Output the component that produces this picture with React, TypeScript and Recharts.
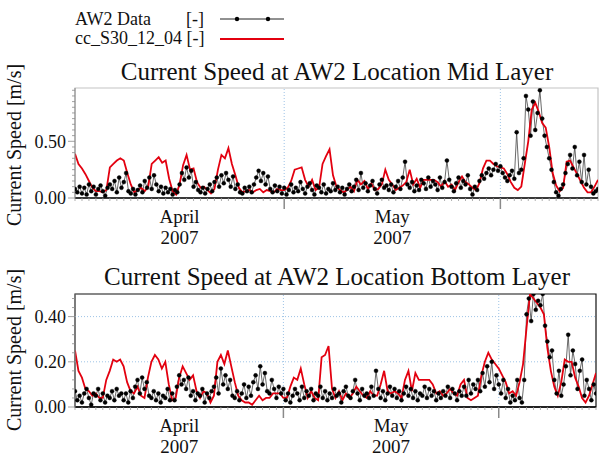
import React from 'react';
import { ComposedChart, Line, XAxis, YAxis, ReferenceLine, ReferenceArea } from 'recharts';

const SERIF = "'Liberation Serif', 'Times New Roman', serif";

// day 0 = 1 April 2007, x axis runs to mid June
const DAY_MAX = 75;
const MONTH_STARTS = [30, 61];
const MONTH_LABELS = [
  { day: 15, month: 'April', year: '2007' },
  { day: 45.5, month: 'May', year: '2007' },
];

const MODEL_STEP = 0.5; // model output every 12 h
const OBS_STEP = 1 / 3; // measurements every 8 h

// cc_S30_12_04, mid layer
const midModel = [
  .39, .30, .26, .21, .15, .09, .06, .06, .05, .07,
  .27, .30, .33, .35, .33, .22, .12, .05, .07, .09,
  .06, .10, .30, .33, .36, .31, .33, .17, .06, .03,
  .12, .29, .38, .25, .26, .14, .09, .10, .07, .04,
  .08, .25, .38, .35, .44, .30, .20, .09, .05, .06,
  .07, .05, .07, .08, .05, .07, .06, .05, .08, .07,
  .07, .09, .15, .25, .26, .27, .16,
  .10, .16, .07, .09, .30, .37, .43, .20, .10, .07, .05, .07, .10, .06,
  .16, .12, .15, .08, .13, .07, .08, .12, .25, .16,
  .12, .07, .09, .11, .14, .25, .12, .17, .09, .16,
  .16, .16, .16, .14, .10, .15, .10, .12, .07, .14,
  .19, .14, .12, .09, .07, .13, .26, .33, .33, .30,
  .28, .27, .26, .21, .14, .09, .07, .10, .30, .50,
  .78, .84, .76, .66, .62, .45, .22, .11, .06, .09,
  .32, .33, .27, .21, .15, .09, .05, .05, .10, .16,
];

// AW2 data, mid layer
const midObs = [
  .08, .05, .10, .04, .09, .03, .12, .06, .10, .03, .08, .11, .06, .02, .09,
  .12, .08, .15, .05, .18, .09, .14, .22, .06, .04, .08, .03, .07, .11, .05,
  .15, .09, .18, .08, .20, .12, .06, .10, .04, .09, .05, .08, .03, .07, .05,
  .12, .22, .16, .27, .18, .24, .10, .14, .07, .05, .09, .04, .08, .12, .06,
  .14, .18, .10, .20, .13, .22, .16, .10, .19, .08, .12, .05, .04, .09, .06,
  .10, .05, .12, .18, .24, .15, .22, .12, .19, .08, .05, .11, .06, .10, .04,
  .09, .03, .07, .12, .05, .09, .06, .14, .08, .04, .10, .13, .07, .03, .11,
  .09, .05, .12, .04, .08, .06, .13, .07, .10, .05, .09, .03, .08, .12, .06,
  .10, .16, .07, .22, .09, .13, .06, .11, .15, .08, .04, .12, .16, .09, .11,
  .07, .12, .05, .10, .15, .08, .18, .32, .12, .09, .14, .06, .11, .07, .16,
  .13, .08, .18, .10, .15, .12, .07, .18, .09, .14, .33, .16, .10, .06, .13,
  .18, .09, .15, .12, .20, .08, .03, .10, .07, .15, .20, .17, .22, .26, .20,
  .25, .30, .24, .28, .22, .18, .15, .20, .24, .17, .58, .22, .25, .35, .90,
  .78, .55, .85, .60, .75, .95, .70, .55, .45, .35, .25, .14, .05, .02, .08,
  .12, .22, .30, .38, .26, .45, .20, .32, .14, .38, .12, .25, .10, .04, .06,
  .08,
];

// cc_S30_12_04, bottom layer
const botModel = [
  .25, .16, .13, .08, .07, .05, .06, .04, .04, .12,
  .16, .21, .20, .21, .18, .11, .07, .06, .09, .05,
  .04, .13, .20, .23, .21, .17, .20, .10, .03, .04,
  .13, .18, .15, .12, .14, .07, .04, .07, .06, .02,
  .05, .20, .23, .19, .25, .18, .11, .05, .03, .02,
  .02, .01, .03, .05, .03, .04, .04, .06, .06, .06,
  .04, .04, .09, .13, .12, .17, .10,
  .04, .07, .04, .03, .22, .23, .27, .08, .04, .07, .03, .06, .04, .06,
  .09, .07, .05, .04, .07, .05, .05, .10, .16, .07,
  .06, .07, .06, .04, .12, .16, .07, .15, .12, .12,
  .12, .12, .10, .06, .07, .05, .06, .08, .06, .05,
  .10, .12, .04, .03, .04, .05, .14, .20, .24, .21,
  .19, .17, .14, .11, .06, .07, .05, .11, .19, .35,
  .50, .48, .46, .44, .41, .26, .16, .09, .05, .11,
  .21, .20, .20, .13, .09, .04, .02, .05, .10, .15,
];

// AW2 data, bottom layer
const botObs = [
  .07, .03, .05, .02, .06, .08, .04, .01, .06, .05, .08, .03, .06, .02, .05,
  .04, .07, .03, .08, .05, .06, .03, .06, .02, .07, .04, .09, .12, .06, .13,
  .08, .11, .05, .04, .07, .03, .06, .02, .05, .04, .08, .03, .06, .03, .09,
  .14, .10, .12, .08, .13, .05, .07, .03, .06, .05, .08, .02, .06, .04, .07,
  .09, .13, .06, .17, .10, .14, .08, .12, .05, .04, .07, .03, .06, .10, .04,
  .09, .05, .11, .14, .08, .18, .10, .15, .07, .06, .12, .08, .04, .09, .06,
  .08, .03, .06, .02, .05, .08, .06, .03, .09, .04, .07, .05, .08, .03, .06,
  .05, .09, .04, .07, .03, .06, .04, .08, .05, .06, .02, .07, .09, .05, .04,
  .07, .12, .06, .03, .08, .05, .06, .04, .09, .05, .16, .08, .04, .07, .03,
  .06, .09, .05, .08, .04, .07, .03, .06, .09, .05, .08, .04, .07, .03, .06,
  .05, .09, .04, .08, .05, .07, .03, .06, .04, .07, .05, .09, .04, .08, .06,
  .03, .07, .05, .09, .05, .12, .06, .10, .08, .12, .07, .15, .09, .18, .11,
  .20, .08, .14, .10, .06, .12, .04, .08, .02, .05, .03, .12, .04, .02, .12,
  .41, .48, .38, .50, .43, .47, .45, .50, .36, .29, .22, .25, .12, .06, .16,
  .05, .10, .18, .32, .14, .25, .19, .08, .16, .21, .05, .12, .08, .03, .10,
  .06,
];

const toSeries = (vals: number[], step: number) =>
  vals.map((v, i) => ({ t: +(i * step).toFixed(4), v }));

const X_TICKS = [...Array.from({ length: DAY_MAX + 1 }, (_, i) => i), 45.5].sort((a, b) => a - b);

const XTick = ({ x, y, payload }: any) => {
  const v = payload.value;
  const major = MONTH_STARTS.includes(v);
  const lbl = MONTH_LABELS.find((m) => m.day === v);
  return (
    <g>
      {Number.isInteger(v) && (
        <line x1={x} x2={x} y1={y} y2={y + (major ? 11 : 3)} stroke={major ? '#8a8a8a' : '#9a9a9a'} strokeWidth={major ? 1.5 : 0.8} />
      )}
      {lbl && (
        <text x={x} y={y + 25} textAnchor="middle" fontFamily={SERIF} fontSize={19} fill="#111">
          <tspan x={x} dy={0}>{lbl.month}</tspan>
          <tspan x={x} dy={21}>{lbl.year}</tspan>
        </text>
      )}
    </g>
  );
};

const makeYTick = (labels: number[]) => ({ x, y, payload }: any) => {
  const v = payload.value;
  const lab = labels.some((l) => Math.abs(l - v) < 1e-6);
  return (
    <g>
      <line x1={x} x2={x - (lab ? 7 : 3)} y1={y} y2={y} stroke="#8a8a8a" strokeWidth={0.8} />
      {lab && (
        <text x={x - 9} y={y} dy="0.35em" textAnchor="end" fontFamily={SERIF} fontSize={18} fill="#111">
          {v.toFixed(2)}
        </text>
      )}
    </g>
  );
};

interface PanelProps {
  top: number;
  height: number;
  plotTop: number;
  plotBottom: number;
  model: number[];
  obs: number[];
  yMax: number;
  yLabels: number[];
  yMinor: number;
  hGrid: number[];
  frame: string;
  right: number;
}

function Panel({ top, height, plotTop, plotBottom, model, obs, yMax, yLabels, yMinor, hGrid, frame, right }: PanelProps) {
  const yTicks = Array.from({ length: Math.floor(yMax / yMinor + 1e-6) + 1 }, (_, i) => +(i * yMinor).toFixed(3));
  const xAxisH = height - (plotBottom - top) - 2;
  return (
    <div style={{ position: 'absolute', left: 0, top }}>
      <ComposedChart width={605} height={height} margin={{ top: plotTop - top, right, bottom: 2, left: 15 }}>
        <XAxis
          type="number"
          dataKey="t"
          domain={[0, DAY_MAX]}
          ticks={X_TICKS}
          interval={0}
          tickSize={0}
          tickMargin={0}
          tickLine={false}
          tick={<XTick />}
          height={xAxisH}
          axisLine={{ stroke: '#000', strokeWidth: 1.5 }}
          allowDataOverflow
        />
        <YAxis
          type="number"
          domain={[0, yMax]}
          ticks={yTicks}
          interval={0}
          tickSize={0}
          tickMargin={0}
          tickLine={false}
          tick={makeYTick(yLabels)}
          width={60}
          axisLine={{ stroke: '#8a8a8a', strokeWidth: 1 }}
          allowDataOverflow
        />
        <ReferenceArea x1={0} x2={DAY_MAX} y1={0} y2={yMax} fill="none" stroke={frame} strokeWidth={1.2} />
        {MONTH_STARTS.map((d) => (
          <ReferenceLine key={d} x={d} stroke="#9dc3e6" strokeDasharray="1 2" />
        ))}
        {hGrid.map((g) => (
          <ReferenceLine key={g} y={g} stroke="#9dc3e6" strokeDasharray="1 2" />
        ))}
        <Line
          data={toSeries(obs, OBS_STEP)}
          dataKey="v"
          stroke="#444"
          strokeWidth={0.8}
          dot={{ r: 2, fill: '#000', stroke: '#000', strokeWidth: 0.4 }}
          isAnimationActive={false}
        />
        <Line
          data={toSeries(model, MODEL_STEP)}
          dataKey="v"
          stroke="#e3000f"
          strokeWidth={1.8}
          dot={false}
          isAnimationActive={false}
        />
      </ComposedChart>
    </div>
  );
}

export default function App() {
  return (
    <div style={{ position: 'absolute', left: 0, top: 0, width: 605, height: 466, background: '#fff', fontFamily: SERIF }}>
      <Panel
        top={0}
        height={260}
        plotTop={88}
        plotBottom={198}
        model={midModel}
        obs={midObs}
        yMax={0.97}
        yLabels={[0, 0.5]}
        yMinor={0.05}
        hGrid={[]}
        frame="#c4c4c4"
        right={7}
      />
      <Panel
        top={260}
        height={206}
        plotTop={294}
        plotBottom={407}
        model={botModel}
        obs={botObs}
        yMax={0.5}
        yLabels={[0, 0.2, 0.4]}
        yMinor={0.04}
        hGrid={[0.2, 0.4]}
        frame="#111"
        right={9}
      />
      <svg width={605} height={466} style={{ position: 'absolute', left: 0, top: 0, pointerEvents: 'none' }}>
        <g fontFamily={SERIF} fill="#111">
          <text x={75} y={25} fontSize={18}>AW2 Data</text>
          <text x={186} y={25} fontSize={18}>[-]</text>
          <text x={75} y={44} fontSize={18}>cc_S30_12_04 [-]</text>
          <text x={337} y={80} fontSize={25} textAnchor="middle">Current Speed at AW2 Location Mid Layer</text>
          <text x={337} y={285} fontSize={25} textAnchor="middle">Current Speed at AW2 Location Bottom Layer</text>
          <text transform="translate(14,145) rotate(-90)" fontSize={20} textAnchor="middle" dominantBaseline="central">Current Speed [m/s]</text>
          <text transform="translate(14,350) rotate(-90)" fontSize={20} textAnchor="middle" dominantBaseline="central">Current Speed [m/s]</text>
        </g>
        <line x1={220} x2={284} y1={19} y2={19} stroke="#222" strokeWidth={1} />
        <circle cx={237} cy={19} r={2.2} fill="#000" />
        <circle cx={268} cy={19} r={2.2} fill="#000" />
        <line x1={220} x2={284} y1={39} y2={39} stroke="#e3000f" strokeWidth={2} />
      </svg>
    </div>
  );
}
